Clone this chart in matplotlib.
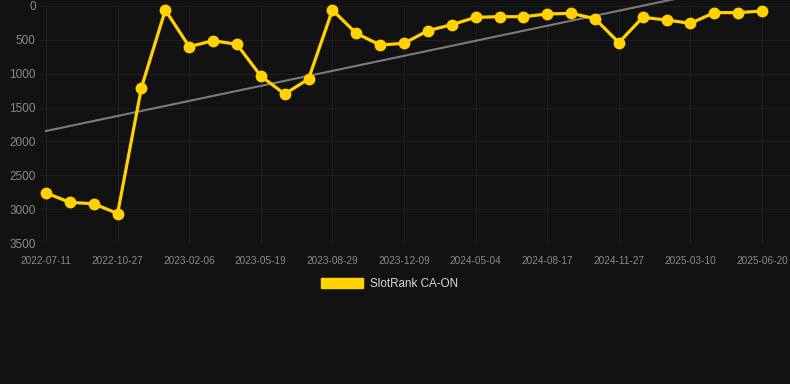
import matplotlib
matplotlib.use("Agg")
import matplotlib.pyplot as plt
from matplotlib.patches import Patch
import numpy as np

matplotlib.rcParams['font.family'] = ['Liberation Sans', 'DejaVu Sans']

# ---- data ----
rank = [2760, 2900, 2920, 3065, 1205, 60, 600, 512, 566, 1034,
        1300, 1078, 60, 404, 576, 551, 364, 276, 167, 158,
        158, 118, 108, 187, 541, 167, 207, 256, 98, 98, 74]
tick_labels = ["2022-07-11", "2022-10-27", "2023-02-06", "2023-05-19",
               "2023-08-29", "2023-12-09", "2024-05-04", "2024-08-17",
               "2024-11-27", "2025-03-10", "2025-06-20"]
trend_ends = [1846, -374]   # trend line at first / last point
series_name = "SlotRank CA-ON"

BG = "#121212"
GOLD = "#FFD200"

fig = plt.figure(figsize=(7.9, 3.84), dpi=100, facecolor=BG)
ax = fig.add_axes([40/790, 1 - 243/384, 750/790, 237/384])
ax.set_facecolor(BG)

x = np.arange(len(rank))
ax.plot([x[0], x[-1]], trend_ends, color="#7c7c7c", lw=1.5,
        clip_on=False, zorder=2)
ax.plot(x, rank, color=GOLD, lw=2.3, marker="o", ms=7.5,
        clip_on=False, zorder=3)

ax.set_ylim(3500, 0)
ax.set_xlim(-0.25, 31.17)
ax.set_yticks(range(0, 3501, 500))
ax.set_xticks(x[::3])
ax.set_xticklabels(tick_labels)

ax.grid(True, color="#1f1f1f", lw=0.8, zorder=0)
for s in ax.spines.values():
    s.set_visible(False)
ax.tick_params(axis="both", length=0, colors="#8a8a8a")
ax.tick_params(axis="y", labelsize=8.5, pad=3)
ax.tick_params(axis="x", labelsize=7.2, pad=9)

fig.legend(handles=[Patch(facecolor=GOLD, edgecolor=GOLD, label=series_name)],
           loc="center", bbox_to_anchor=(0.493, 0.26), frameon=False,
           handlelength=3.6, handleheight=1.0, handletextpad=0.6,
           labelcolor="#d8d8d8", fontsize=8.4)

fig.savefig("out.png", dpi=100, facecolor=BG)
